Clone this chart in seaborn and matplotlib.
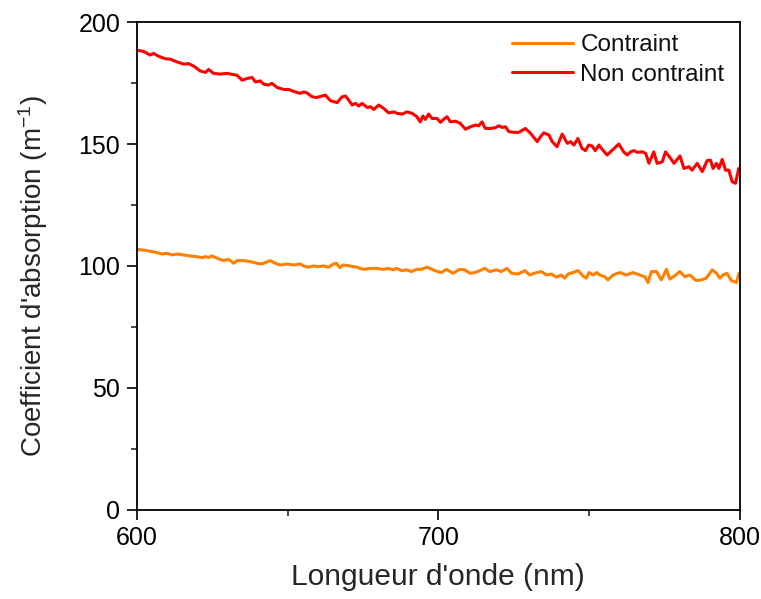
import numpy as np
import pandas as pd
import matplotlib
matplotlib.use('Agg')
import matplotlib.pyplot as plt
import seaborn as sns
from matplotlib.ticker import MultipleLocator

# absorption spectra
wl_non = [600.0, 602.2, 604.4, 605.5, 607.2, 609.4, 611.1, 613.3, 615.5, 617.1, 618.8, 621.0,
          622.7, 623.8, 625.4, 627.6, 629.9, 633.2, 634.9, 636.5, 638.2, 639.3, 640.9, 642.0,
          643.7, 644.8, 646.5, 648.7, 650.3, 652.5, 654.2, 655.3, 656.4, 658.1, 659.7, 661.4,
          662.5, 664.2, 666.4, 668.1, 669.2, 670.3, 671.4, 672.5, 673.6, 674.7, 676.4, 677.5,
          678.6, 680.2, 681.9, 683.5, 685.2, 686.3, 688.0, 689.6, 691.3, 692.9, 694.0, 694.9,
          695.7, 696.8, 697.9, 699.6, 700.7, 701.8, 702.9, 704.0, 705.7, 707.3, 709.0, 710.7,
          712.3, 713.4, 714.5, 715.6, 717.3, 718.9, 720.1, 721.2, 722.3, 723.4, 725.0, 726.7,
          728.9, 730.6, 732.8, 733.9, 735.0, 736.7, 737.8, 739.4, 741.1, 742.8, 743.9, 745.0,
          746.3, 747.7, 748.8, 749.9, 751.0, 752.1, 753.3, 754.4, 756.0, 757.7, 759.9, 761.5,
          762.7, 763.8, 764.9, 766.0, 767.7, 768.8, 769.9, 771.5, 772.6, 774.3, 775.4, 777.1,
          778.2, 780.2, 781.5, 783.1, 784.2, 785.9, 787.6, 789.2, 790.3, 791.2, 792.3, 793.1,
          794.2, 795.3, 796.4, 797.5, 798.6, 799.7]
abs_non = [188.5, 188.0, 186.5, 187.2, 186.0, 185.0, 184.8, 183.7, 182.8, 183.0, 182.0, 180.0,
           179.4, 180.6, 179.0, 178.7, 179.0, 178.2, 176.2, 176.9, 177.3, 175.5, 175.9, 174.6,
           174.2, 174.9, 173.2, 172.4, 172.4, 171.4, 170.8, 171.4, 171.0, 169.4, 169.1, 169.7,
           170.1, 167.8, 167.0, 169.4, 169.7, 168.0, 166.0, 166.7, 165.6, 166.7, 165.0, 165.3,
           164.2, 166.0, 164.6, 162.8, 163.2, 162.6, 162.3, 163.2, 162.6, 161.2, 159.1, 161.5,
           160.1, 162.3, 160.5, 160.5, 158.9, 160.2, 161.2, 159.1, 159.4, 158.5, 156.1, 157.1,
           157.8, 157.5, 159.1, 156.4, 156.4, 156.7, 157.5, 156.8, 157.1, 155.1, 154.8, 154.8,
           156.4, 154.4, 151.0, 153.0, 154.6, 153.7, 151.0, 148.9, 154.1, 150.3, 151.0, 149.6,
           152.3, 148.2, 147.3, 149.6, 149.2, 147.3, 149.6, 147.8, 145.5, 147.5, 150.0, 146.8,
           145.5, 146.8, 147.3, 146.6, 146.8, 146.2, 142.1, 146.8, 142.1, 142.7, 146.8, 144.1,
           142.1, 145.1, 140.0, 140.7, 139.3, 142.1, 138.7, 143.2, 143.4, 140.0, 142.1, 140.0,
           143.7, 139.3, 139.3, 134.6, 133.9, 140.0]

wl_con = [600.0, 603.3, 606.6, 608.3, 610.0, 611.6, 613.3, 615.5, 617.7, 619.9, 621.6, 622.7,
          623.8, 624.9, 626.5, 628.7, 630.4, 632.1, 633.2, 635.4, 637.6, 639.8, 641.5, 642.6,
          644.2, 645.9, 647.5, 649.8, 652.0, 654.2, 655.3, 656.9, 658.6, 660.3, 661.9, 663.6,
          665.2, 666.2, 667.3, 668.4, 670.6, 672.9, 675.1, 677.3, 679.5, 681.7, 683.4, 685.0,
          686.1, 687.8, 689.5, 691.1, 692.8, 694.4, 696.1, 697.2, 698.8, 701.0, 702.7, 704.9,
          707.1, 708.8, 710.5, 712.1, 713.8, 715.4, 717.1, 719.3, 720.9, 722.8, 724.3, 726.5,
          728.7, 730.3, 732.6, 734.2, 735.9, 737.5, 739.2, 740.8, 741.9, 743.1, 744.7, 746.4,
          748.0, 749.1, 750.0, 751.4, 752.5, 753.6, 755.2, 756.3, 758.0, 760.2, 762.4, 764.6,
          766.8, 768.5, 769.6, 770.7, 772.4, 774.0, 775.7, 776.8, 778.4, 780.1, 781.8, 783.4,
          785.6, 787.3, 788.9, 790.9, 792.3, 793.4, 794.5, 795.8, 797.2, 798.9, 799.8]
abs_con = [106.8, 106.3, 105.5, 104.9, 105.2, 104.5, 104.9, 104.5, 104.1, 103.8, 103.4, 103.8,
           103.5, 104.1, 103.2, 102.2, 102.7, 101.1, 102.2, 102.2, 101.8, 101.1, 100.8, 101.4,
           102.2, 101.1, 100.4, 100.8, 100.4, 100.8, 100.0, 99.5, 100.0, 99.7, 100.0, 99.5,
           100.8, 101.1, 99.3, 100.4, 100.0, 99.5, 98.6, 99.0, 99.0, 98.6, 99.0, 98.4,
           99.0, 98.1, 98.4, 97.7, 98.6, 98.6, 99.5, 99.0, 98.1, 97.3, 98.6, 97.0,
           98.6, 98.4, 97.0, 97.3, 98.1, 99.0, 97.7, 98.4, 97.7, 99.0, 97.0, 96.7,
           98.1, 96.3, 97.3, 97.7, 96.3, 96.7, 95.4, 96.3, 95.0, 96.7, 97.3, 98.1,
           95.9, 95.0, 97.3, 96.3, 97.3, 96.3, 95.6, 94.3, 96.3, 97.3, 96.3, 97.3,
           96.3, 95.6, 93.2, 97.7, 97.7, 94.3, 98.6, 94.6, 95.9, 97.7, 95.6, 96.3,
           94.0, 94.3, 95.0, 98.4, 97.0, 95.0, 96.3, 97.0, 94.0, 93.2, 97.0]

series = ['Contraint', 'Non contraint']

df = pd.concat([
    pd.DataFrame({'wl': wl_con, 'alpha': abs_con, 'sample': series[0]}),
    pd.DataFrame({'wl': wl_non, 'alpha': abs_non, 'sample': series[1]}),
])

sns.set_style('ticks')
plt.rcParams['font.family'] = ['Liberation Sans', 'DejaVu Sans']
plt.rcParams['mathtext.fontset'] = 'custom'
plt.rcParams['mathtext.rm'] = 'Liberation Sans'
plt.rcParams['text.color'] = '#111111'

fig = plt.figure(figsize=(7.61, 5.99), dpi=100)
ax = fig.add_axes([0.180, 0.149, 0.792, 0.814])

sns.lineplot(data=df, x='wl', y='alpha', hue='sample', hue_order=series,
             palette={'Contraint': '#FF8000', 'Non contraint': '#FF0000'},
             estimator=None, linewidth=2.2, ax=ax)

ax.set_xlim(600, 800)
ax.set_ylim(0, 200)
ax.xaxis.set_major_locator(MultipleLocator(100))
ax.xaxis.set_minor_locator(MultipleLocator(50))
ax.yaxis.set_major_locator(MultipleLocator(50))
ax.yaxis.set_minor_locator(MultipleLocator(25))
ax.tick_params(which='major', direction='out', length=7, width=1.2, labelsize=18, pad=5,
               colors='black', top=False, right=False)
ax.tick_params(which='minor', direction='out', length=4, width=1.2, top=False, right=False)
for s in ax.spines.values():
    s.set_linewidth(1.3)
    s.set_color('black')

ax.set_xlabel("Longueur d'onde (nm)", fontsize=21.5, labelpad=9)
ax.set_ylabel("Coefficient d'absorption (m$\\mathregular{^{-1}}$)", fontsize=20, labelpad=10)
ax.yaxis.set_label_coords(-0.145, 0.48)

handles, labels = ax.get_legend_handles_labels()
ax.legend(handles, labels, loc='upper right', frameon=False, fontsize=17.5,
          handlelength=2.5, handletextpad=0.3, labelspacing=0.3,
          borderaxespad=0.1, bbox_to_anchor=(0.995, 1.0))

plt.savefig('out.png', dpi=100)
plt.close()
